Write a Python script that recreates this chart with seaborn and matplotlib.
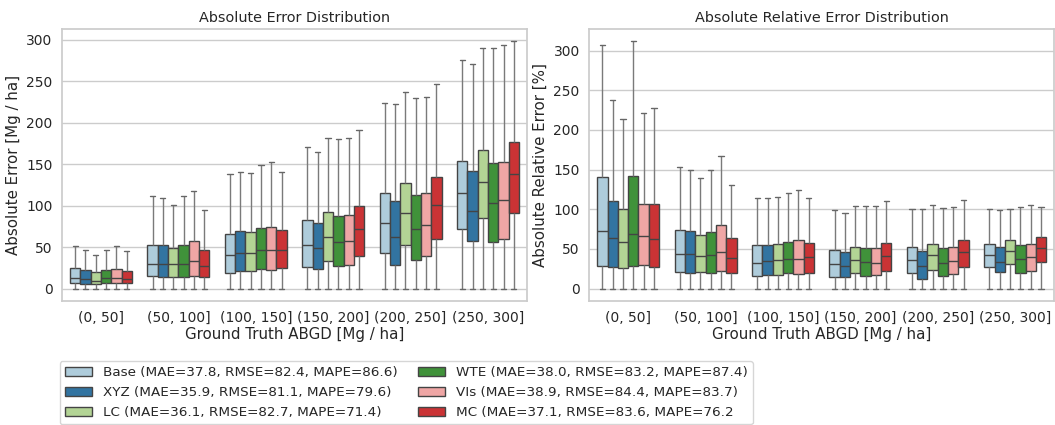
import numpy as np
import pandas as pd
import seaborn as sns
import matplotlib
matplotlib.use("Agg")
import matplotlib.pyplot as plt

bins = ["(0, 50]", "(50, 100]", "(100, 150]", "(150, 200]", "(200, 250]", "(250, 300]"]
models = ["Base", "XYZ", "LC", "WTE", "VIs", "MC"]
legend_labels = [
    "Base (MAE=37.8, RMSE=82.4, MAPE=86.6)",
    "XYZ (MAE=35.9, RMSE=81.1, MAPE=79.6)",
    "LC (MAE=36.1, RMSE=82.7, MAPE=71.4)",
    "WTE (MAE=38.0, RMSE=83.2, MAPE=87.4)",
    "VIs (MAE=38.9, RMSE=84.4, MAPE=83.7)",
    "MC (MAE=37.1, RMSE=83.6, MAPE=76.2",
]

# absolute error [Mg/ha], rows = bins, cols = models
abs_q1 = [[6.4, 5.6, 5.6, 6.4, 6.4, 6.4],
          [15, 14.5, 14.5, 14.5, 15, 13.6],
          [19, 21.7, 21.7, 23, 22.5, 25],
          [25.7, 24, 33, 27, 28, 39],
          [43, 28, 52, 34.5, 39, 60],
          [72, 57, 85, 56, 60, 90.6]]
abs_med = [[13, 12, 9.6, 13, 13, 12],
           [30, 30, 29, 29, 33, 27],
           [40, 43, 43, 46.5, 46, 47],
           [53, 49, 62.6, 56, 57, 71.4],
           [79, 62.6, 91.5, 72, 76, 101],
           [115.5, 94, 128, 102.7, 106.7, 138]]
abs_q3 = [[25, 22, 20, 22, 24, 21],
          [53, 52, 49, 53, 57, 46],
          [66, 69, 68, 73, 74, 70.6],
          [83, 79, 92, 87.4, 89, 99.5],
          [115.5, 106, 127, 113, 115.5, 135],
          [154, 142, 167, 151.6, 153, 176.5]]
abs_max = [[51, 46, 41, 46, 51, 45],
           [111, 109, 101, 112, 118, 95],
           [138, 140, 139.5, 149, 152, 141],
           [171, 164, 182, 180, 181, 191],
           [224, 222, 237, 230, 231, 246],
           [276, 271, 290, 290, 293.6, 298]]

# absolute relative error [%]
rel_q1 = [[28.5, 26.8, 26, 28.5, 30, 27.6],
          [21, 20, 21, 20, 21.8, 19.3],
          [16, 17.6, 17.6, 19.3, 18.4, 20],
          [15, 14.2, 19.3, 16, 16.8, 22.6],
          [19.3, 12.6, 23.5, 16, 18.4, 27.6],
          [26.8, 21, 31, 20, 21.8, 33.5]]
rel_med = [[72, 63.7, 58.6, 68.7, 66, 62.8],
           [43.6, 43.6, 41, 42.7, 46, 38.5],
           [32.7, 35, 36, 37.7, 37.7, 39.4],
           [31, 28.5, 36, 33.5, 32.7, 41],
           [36, 28.5, 41.9, 32.7, 35, 46],
           [42.7, 33.5, 47.8, 37.7, 39.4, 51]]
rel_q3 = [[140, 110.6, 100.5, 141.6, 107, 107],
          [73.7, 73, 68, 71, 79.6, 63.7],
          [54.5, 55.3, 56, 58.6, 61, 57],
          [48.6, 46, 52.8, 51, 51, 57.8],
          [52, 47.8, 56, 51, 52, 61],
          [56, 52, 61, 55.3, 56, 64.5]]
rel_max = [[307.5, 238, 213.7, 311.7, 221, 228],
           [153, 150, 139, 150, 166.7, 130],
           [114, 114, 114.8, 120.6, 124.8, 114],
           [98.9, 95.5, 104, 104, 104, 109.8],
           [100.5, 100.5, 105.6, 101, 103, 111.4],
           [100.5, 98.9, 100.5, 103, 105.6, 103]]


def long_frame(q1, med, q3, mx):
    # five points per box reproduce min / quartiles / max exactly
    rows = []
    for i, b in enumerate(bins):
        for j, m in enumerate(models):
            for v in (0.0, q1[i][j], med[i][j], q3[i][j], mx[i][j]):
                rows.append((b, m, v))
    return pd.DataFrame(rows, columns=["bin", "model", "value"])


abs_df = long_frame(abs_q1, abs_med, abs_q3, abs_max)
rel_df = long_frame(rel_q1, rel_med, rel_q3, rel_max)

sns.set_theme(style="whitegrid")
plt.rcParams["font.family"] = ["DejaVu Sans"]
palette = sns.color_palette("Paired", 6)

fig, (ax1, ax2) = plt.subplots(1, 2, figsize=(10.55, 4.25), dpi=100)
fig.subplots_adjust(left=0.059, right=0.999, top=0.932, bottom=0.292, wspace=0.135)

for ax, df, ylabel, title in [
    (ax1, abs_df, "Absolute Error [Mg / ha]", "Absolute Error Distribution"),
    (ax2, rel_df, "Absolute Relative Error [%]", "Absolute Relative Error Distribution"),
]:
    sns.boxplot(data=df, x="bin", y="value", hue="model", order=bins, hue_order=models,
                palette=palette, whis=np.inf, ax=ax, linewidth=1.0, linecolor="#444444",
                whiskerprops=dict(color="#7a7a7a"), capprops=dict(color="#666666"))
    ax.set_title(title, fontsize=10.4, pad=5)
    ax.set_xlabel("Ground Truth ABGD [Mg / ha]", fontsize=10.8, labelpad=2)
    ax.set_ylabel(ylabel, fontsize=10.8, labelpad=4)
    ax.tick_params(axis="x", labelsize=10, length=0, pad=7)
    ax.tick_params(axis="y", labelsize=10, length=0, pad=7)
    ax.set_yticks([0, 50, 100, 150, 200, 250, 300])

handles, _ = ax1.get_legend_handles_labels()
ax1.get_legend().remove()
ax2.get_legend().remove()
fig.legend(handles, legend_labels, ncol=2, loc="lower left", bbox_to_anchor=(0.056, 0.0),
           fontsize=9.7, frameon=True, handlelength=2.0, columnspacing=1.5,
           labelspacing=0.5, borderaxespad=0.05)

fig.savefig("out.png", dpi=100)
